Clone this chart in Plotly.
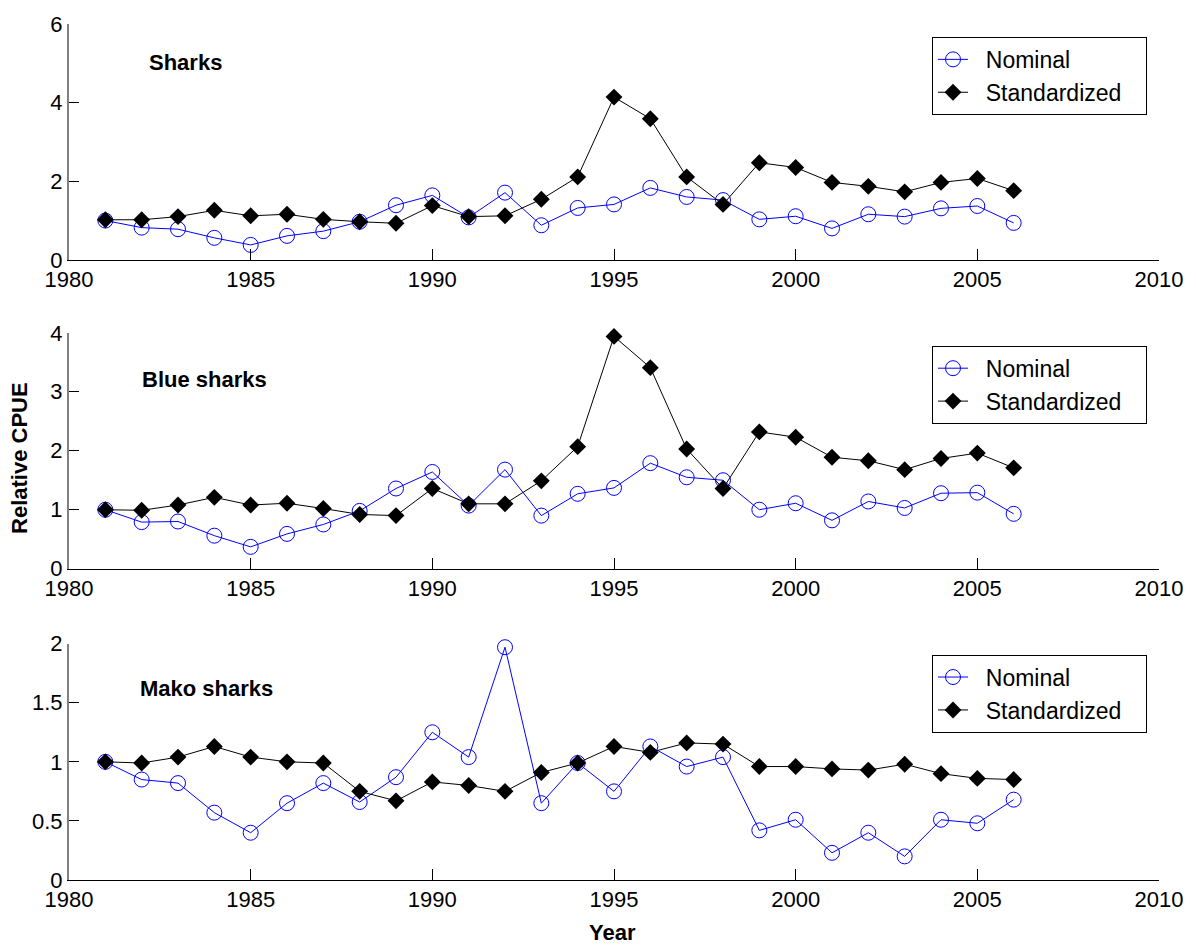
import plotly.graph_objects as go

years = list(range(1981, 2007))

sharks_nominal = [1.00, 0.82, 0.78, 0.56, 0.38, 0.61, 0.73, 0.97, 1.39, 1.64, 1.08, 1.71, 0.88, 1.32, 1.41, 1.83, 1.60, 1.52,
                  1.03, 1.11, 0.80, 1.16, 1.10, 1.31, 1.37, 0.94]
sharks_std = [1.02, 1.02, 1.10, 1.26, 1.12, 1.16, 1.03, 0.97, 0.93, 1.38, 1.10, 1.12, 1.54, 2.11, 4.14, 3.59, 2.11, 1.41,
              2.47, 2.35, 1.97, 1.87, 1.73, 1.97, 2.07, 1.76]

blue_nominal = [1.00, 0.79, 0.80, 0.56, 0.37, 0.59, 0.75, 0.98, 1.36, 1.64, 1.07, 1.68, 0.90, 1.27, 1.37, 1.79, 1.55, 1.50,
                1.00, 1.11, 0.82, 1.14, 1.03, 1.28, 1.29, 0.93]
blue_std = [1.00, 0.99, 1.08, 1.21, 1.08, 1.11, 1.02, 0.92, 0.90, 1.36, 1.10, 1.10, 1.49, 2.07, 3.94, 3.41, 2.03, 1.36,
            2.32, 2.23, 1.89, 1.83, 1.68, 1.87, 1.96, 1.71]

mako_nominal = [1.00, 0.85, 0.82, 0.57, 0.40, 0.65, 0.82, 0.66, 0.87, 1.25, 1.04, 1.97, 0.65, 0.99, 0.75, 1.13, 0.96, 1.04,
                0.42, 0.51, 0.23, 0.40, 0.20, 0.51, 0.48, 0.68]
mako_std = [1.00, 0.99, 1.04, 1.13, 1.04, 1.00, 0.99, 0.75, 0.67, 0.83, 0.80, 0.75, 0.91, 0.99, 1.13, 1.08, 1.16, 1.15,
            0.96, 0.96, 0.94, 0.93, 0.98, 0.90, 0.86, 0.85]

panel_titles = ["Sharks", "Blue sharks", "Mako sharks"]
series_names = ["Nominal", "Standardized"]
y_ranges = [[0, 6], [0, 4], [0, 2]]
y_dticks = [2, 1, 0.5]
x_ticks = [1980, 1985, 1990, 1995, 2000, 2005, 2010]

W, H = 1196, 945
ML, MR, MT, MB = 69, 37, 18, 65
PH = H - MT - MB
PW = W - ML - MR

tops = [18, 329, 642]
bottoms = [255.5, 566.5, 880]
legend_tops = [31, 342, 653]
title_y = [57, 376, 687]
title_x = [147, 140, 138]

def py_to_paper(py):
    return (H - MB - py) / PH

font_family = "Liberation Sans, Arial, sans-serif"
NB = "\u00a0"

fig = go.Figure()
series = [(sharks_nominal, sharks_std), (blue_nominal, blue_std), (mako_nominal, mako_std)]
for i, (nom, std) in enumerate(series):
    xa = "x" if i == 0 else f"x{i+1}"
    ya = "y" if i == 0 else f"y{i+1}"
    lg = "legend" if i == 0 else f"legend{i+1}"
    fig.add_trace(go.Scatter(x=years, y=nom, name=NB * 2 + series_names[0] + NB * 3, mode="lines+markers",
                             line=dict(color="#0000ff", width=1), cliponaxis=False,
                             marker=dict(symbol="circle-open", size=15, color="#0000ff", line=dict(width=1, color="#0000ff")),
                             xaxis=xa, yaxis=ya, legend=lg))
    fig.add_trace(go.Scatter(x=years, y=std, name=NB * 2 + series_names[1] + NB * 3, mode="lines+markers",
                             line=dict(color="#000000", width=1), cliponaxis=False,
                             marker=dict(symbol="diamond", size=13, color="#000000"),
                             xaxis=xa, yaxis=ya, legend=lg))

layout = dict(
    width=W, height=H,
    margin=dict(l=ML, r=MR, t=MT, b=MB),
    paper_bgcolor="white", plot_bgcolor="white",
    font=dict(family=font_family, size=22, color="black"),
    showlegend=True,
)
for i in range(3):
    sx = "" if i == 0 else str(i + 1)
    dom = [py_to_paper(bottoms[i]), py_to_paper(tops[i])]
    layout["xaxis" + sx] = dict(
        domain=[0, 1], anchor="y" + sx, range=[1980, 2010], tickmode="array", tickvals=x_ticks,
        ticks="inside", ticklen=11, tickcolor="black", tickwidth=1,
        showline=True, linecolor="black", linewidth=1, showgrid=False, zeroline=False,
        tickfont=dict(size=22, family=font_family), mirror=False,
    )
    layout["yaxis" + sx] = dict(
        domain=dom, anchor="x" + sx, range=y_ranges[i], tick0=0, dtick=y_dticks[i],
        ticks="inside", ticklen=10, tickcolor="black", tickwidth=1,
        showline=True, linecolor="#808080", linewidth=2, showgrid=False, zeroline=False,
        tickfont=dict(size=22, family=font_family), mirror=False,
    )
    lgname = "legend" if i == 0 else f"legend{i+1}"
    layout[lgname] = dict(
        x=(1147 - ML) / PW, xanchor="right", y=py_to_paper(legend_tops[i]), yanchor="top",
        bordercolor="black", borderwidth=1, bgcolor="white",
        font=dict(size=23, family=font_family), tracegroupgap=0, itemwidth=30,
    )

annotations = []
for i in range(3):
    annotations.append(dict(
        text="<b>" + panel_titles[i] + "</b>", xref="paper", yref="paper",
        x=(title_x[i] - ML) / PW, y=py_to_paper(title_y[i]),
        xanchor="left", yanchor="middle", showarrow=False,
        font=dict(size=22, family=font_family, color="black")))
annotations.append(dict(text="<b>Relative CPUE</b>", xref="paper", yref="paper",
                        x=(20 - ML) / PW, y=py_to_paper(455), xanchor="center", yanchor="middle",
                        textangle=-90, showarrow=False, font=dict(size=22, family=font_family, color="black")))
annotations.append(dict(text="<b>Year</b>", xref="paper", yref="paper",
                        x=(612 - ML) / PW, y=py_to_paper(933), xanchor="center", yanchor="middle",
                        showarrow=False, font=dict(size=22, family=font_family, color="black")))
layout["annotations"] = annotations

fig.update_layout(**layout)
fig.write_html("out.html", config={"displayModeBar": False},
               post_script="document.body.style.margin='0px';document.body.style.overflow='hidden';")
